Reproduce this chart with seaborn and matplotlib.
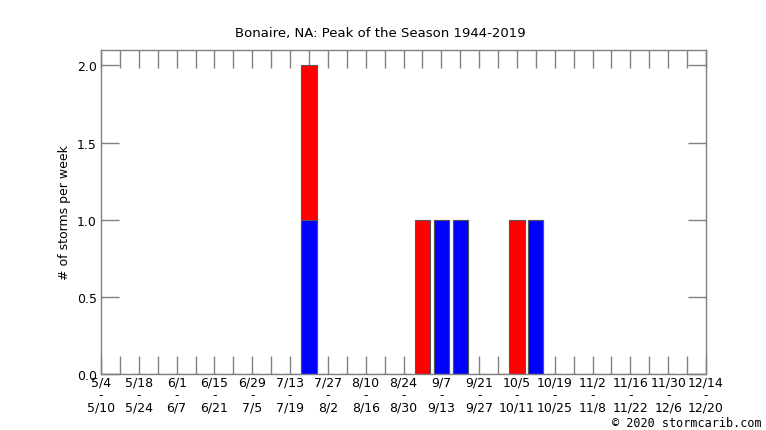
import numpy as np
import pandas as pd
import matplotlib
matplotlib.use("Agg")
import matplotlib.pyplot as plt
import seaborn as sns

# Weekly bins 5/4 .. 12/20 (33 weeks), labels shown every 2 weeks
week_start = ["5/4", "5/11", "5/18", "5/25", "6/1", "6/8", "6/15", "6/22", "6/29", "7/6",
              "7/13", "7/20", "7/27", "8/3", "8/10", "8/17", "8/24", "8/31", "9/7", "9/14",
              "9/21", "9/28", "10/5", "10/12", "10/19", "10/26", "11/2", "11/9", "11/16",
              "11/23", "11/30", "12/7", "12/14"]
week_end = ["5/10", "5/17", "5/24", "5/31", "6/7", "6/14", "6/21", "6/28", "7/5", "7/12",
            "7/19", "7/26", "8/2", "8/9", "8/16", "8/23", "8/30", "9/6", "9/13", "9/20",
            "9/27", "10/4", "10/11", "10/18", "10/25", "11/1", "11/8", "11/15", "11/22",
            "11/29", "12/6", "12/13", "12/20"]

# storms per week (blue = lower part, red = upper part)
blue_counts = [0, 0, 0, 0, 0, 0, 0, 0, 0, 0, 0, 1, 0, 0, 0, 0, 0, 0, 1, 1,
               0, 0, 0, 1, 0, 0, 0, 0, 0, 0, 0, 0, 0]
red_counts = [0, 0, 0, 0, 0, 0, 0, 0, 0, 0, 0, 1, 0, 0, 0, 0, 0, 1, 0, 0,
              0, 0, 1, 0, 0, 0, 0, 0, 0, 0, 0, 0, 0]

title = "Bonaire, NA: Peak of the Season 1944-2019"

df = pd.DataFrame({"week": week_start, "blue": blue_counts, "red": red_counts})
df["total"] = df["blue"] + df["red"]

sns.set_style("white")
plt.rcParams["font.family"] = ["DejaVu Sans"]
plt.rcParams["text.color"] = "black"
plt.rcParams["axes.labelcolor"] = "black"
plt.rcParams["xtick.labelcolor"] = "black"
plt.rcParams["ytick.labelcolor"] = "black"

fig = plt.figure(figsize=(7.66, 4.31), dpi=100)
ax = fig.add_axes([101 / 766, 1 - 375 / 431, 605 / 766, 324 / 431])

gray = "#808080"
edge = "#555555"

# red drawn as total, blue drawn on top -> stacked look
sns.barplot(data=df, x="week", y="total", color="red", saturation=1, width=0.8,
            edgecolor=edge, linewidth=0.8, ax=ax)
sns.barplot(data=df, x="week", y="blue", color="blue", saturation=1, width=0.8,
            edgecolor=edge, linewidth=0.8, ax=ax)

ax.set_xlim(0, len(week_start) - 1)
ax.set_ylim(0, 2.1)

xt = np.arange(len(week_start))
ax.set_xticks(xt)
ax.set_xticklabels([f"{s}\n-\n{e}" if i % 2 == 0 else "" for i, (s, e) in enumerate(zip(week_start, week_end))],
                   linespacing=0.95, fontsize=9)
ax.set_yticks([0, 0.5, 1.0, 1.5, 2.0])
ax.set_yticklabels(["0.0", "0.5", "1.0", "1.5", "2.0"], fontsize=9)

ax.tick_params(axis="both", direction="in", length=13, width=1, color=gray,
               top=True, right=True, bottom=True, left=True)
ax.tick_params(axis="x", pad=1)
ax.tick_params(axis="y", pad=3)

for sp in ax.spines.values():
    sp.set_visible(True)
    sp.set_color(gray)
    sp.set_linewidth(1)

ax.set_xlabel("")
ax.set_ylabel("# of storms per week", fontsize=9, labelpad=4)

fig.text(0.496, 1 - 33 / 431, title, ha="center", va="center", fontsize=9.5)
fig.text(762 / 766, 1 - 424 / 431, "\u00a9 2020 stormcarib.com", ha="right", va="center",
         fontsize=8.5, family="DejaVu Sans Mono")

fig.savefig("out.png", dpi=100)
